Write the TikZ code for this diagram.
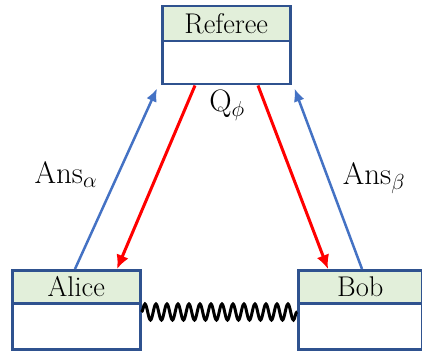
\RequirePackage{fix-cm}
\documentclass[tikz,border=0pt]{standalone}
\usetikzlibrary{decorations.pathmorphing,arrows.meta}
\definecolor{boxblue}{RGB}{47,82,143}
\definecolor{headgreen}{RGB}{226,239,218}
\definecolor{arrblue}{RGB}{68,114,196}
\begin{document}
\begin{tikzpicture}[x=1pt,y=-1pt,
  head/.style={draw=boxblue, fill=headgreen, line width=2.5pt, minimum width=128pt, minimum height=35pt, inner sep=0pt, font=\fontsize{28.5}{33}\selectfont, anchor=north west},
  body/.style={draw=boxblue, fill=white, line width=2.5pt, minimum width=128pt, minimum height=43pt, inner sep=0pt, anchor=north west},
  lbl/.style={font=\fontsize{31}{36}\selectfont, inner sep=0pt, anchor=base},
  ansarrow/.style={draw=arrblue, line width=2.5pt, -{Latex[length=13pt,width=11pt]}},
  qarrow/.style={draw=red, line width=3pt, -{Latex[length=14pt,width=13pt]}},
  entangle/.style={decorate, decoration={snake, amplitude=8pt, segment length=11pt}, line width=3pt}
]
\useasboundingbox (0,0) rectangle (422,355);
% Referee
\node[body] (refbody) at (161,40) {};
\node[head] (refhead) at (161,5) {Referee};
% Alice
\node[body, minimum height=46pt] (alicebody) at (11,302) {};
\node[head, minimum height=33pt] (alicehead) at (11,269) {Alice};
% Bob
\node[body, minimum height=46pt, minimum width=124pt] (bobbody) at (297,302) {};
\node[head, minimum height=33pt, minimum width=124pt] (bobhead) at (297,269) {Bob};
% labels
\node[lbl] (q) at (227,112) {$\mathrm{Q}_\phi$};
\node[lbl] (ansa) at (66,183) {$\mathrm{Ans}_\alpha$};
\node[lbl] (ansb) at (374,185) {$\mathrm{Ans}_\beta$};
% arrows
\draw[ansarrow] ([xshift=64pt]alicehead.north west) -- ([xshift=-4pt,yshift=-3pt]refbody.south west);
\draw[qarrow] ([xshift=34pt]refbody.south west) -- ([xshift=106pt]alicehead.north west);
\draw[qarrow] ([xshift=97pt]refbody.south west) -- ([xshift=31pt]bobhead.north west);
\draw[ansarrow] ([xshift=65pt]bobhead.north west) -- ([xshift=3pt,yshift=-3pt]refbody.south east);
% entanglement
\draw[entangle] ([yshift=-10pt]alicebody.north east) -- ([yshift=-10pt]bobbody.north west);
\end{tikzpicture}
\end{document}
